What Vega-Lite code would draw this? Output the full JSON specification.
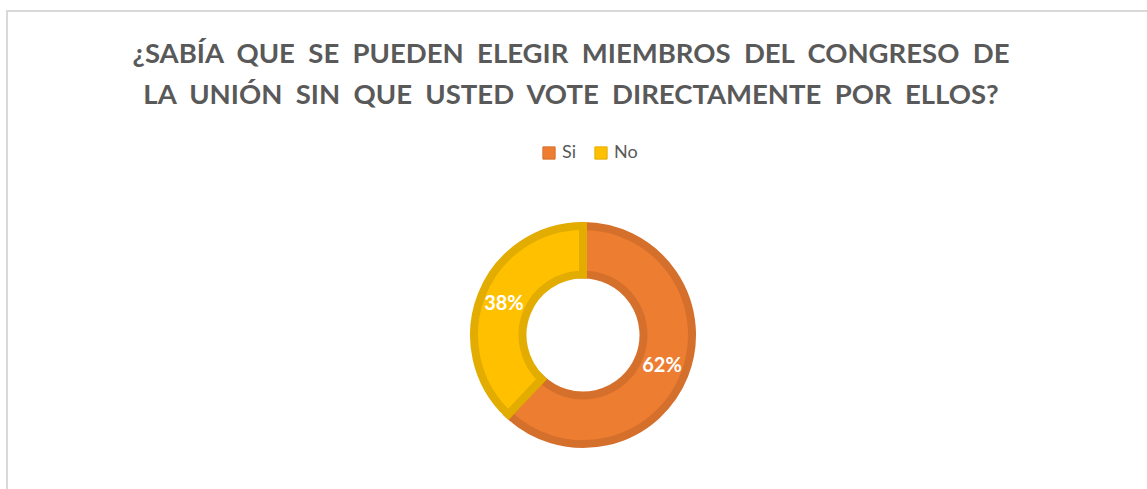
{
  "$schema": "https://vega.github.io/schema/vega-lite/v6.json",
  "autosize": {"type": "fit", "contains": "padding"},
  "width": 1147,
  "height": 489,
  "padding": {"left": 7, "top": 11, "right": -12, "bottom": -170},
  "background": "white",
  "view": {"stroke": "#D9D9D9", "strokeWidth": 2, "fill": "white"},
  "title": {
    "text": ["¿SABÍA\u00a0\u00a0QUE\u00a0\u00a0SE\u00a0\u00a0PUEDEN\u00a0\u00a0ELEGIR\u00a0\u00a0MIEMBROS\u00a0\u00a0DEL\u00a0\u00a0CONGRESO\u00a0\u00a0DE", "LA\u00a0\u00a0UNIÓN\u00a0\u00a0SIN\u00a0\u00a0QUE\u00a0\u00a0USTED\u00a0\u00a0VOTE\u00a0\u00a0DIRECTAMENTE\u00a0\u00a0POR\u00a0\u00a0ELLOS?"],
    "font": "Lato",
    "fontWeight": "bold",
    "fontSize": 27.5,
    "lineHeight": 41,
    "color": "#595959",
    "anchor": "middle",
    "dx": -12,
    "offset": -98
  },
  "data": {
    "values": [
      {"respuesta": "Si", "porcentaje": 62, "etiqueta": "62%", "orden": 1},
      {"respuesta": "No", "porcentaje": 38, "etiqueta": "38%", "orden": 2}
    ]
  },
  "encoding": {
    "theta": {"field": "porcentaje", "type": "quantitative", "stack": true},
    "order": {"field": "orden", "type": "quantitative"}
  },
  "layer": [
    {
      "mark": {"type": "arc", "outerRadius": 109, "innerRadius": 60.5, "strokeWidth": 8},
      "encoding": {
        "fill": {
          "field": "respuesta", "type": "nominal",
          "scale": {"domain": ["Si", "No"], "range": ["#ED7D31", "#FFC000"]},
          "legend": {"title": null}
        },
        "stroke": {
          "field": "respuesta", "type": "nominal",
          "scale": {"domain": ["Si", "No"], "range": ["#D5702C", "#E3AC00"]},
          "legend": {"title": null}
        }
      }
    },
    {
      "mark": {"type": "text", "radius": 85, "font": "Lato", "fontWeight": "bold", "fontSize": 20, "fill": "white", "align": "center", "baseline": "middle"},
      "encoding": {
        "text": {"field": "etiqueta", "type": "nominal"}
      }
    }
  ],
  "config": {
    "view": {"stroke": "#D9D9D9", "strokeWidth": 2},
    "legend": {
      "orient": "none",
      "direction": "horizontal",
      "legendX": 533,
      "legendY": 133,
      "symbolType": "square",
      "symbolSize": 150,
      "symbolStrokeWidth": 1,
      "labelFont": "Lato",
      "labelFontSize": 18,
      "labelColor": "#595959",
      "labelOffset": 4,
      "columnPadding": 15
    }
  }
}
